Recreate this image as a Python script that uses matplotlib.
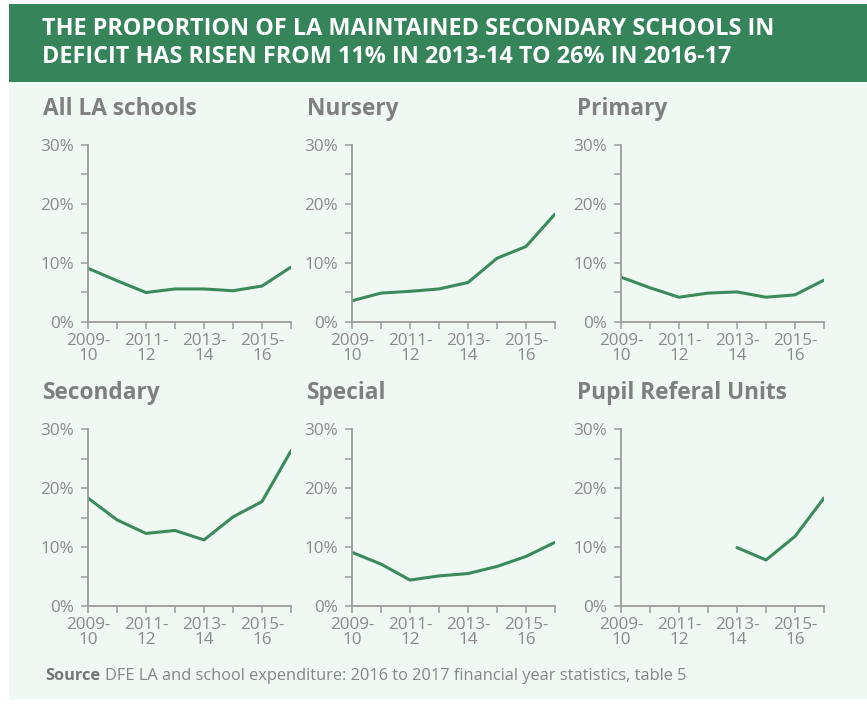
import numpy as np
import matplotlib
matplotlib.use("Agg")
import matplotlib.pyplot as plt
from matplotlib.patches import Rectangle

years = ["2009-\n10", "2010-\n11", "2011-\n12", "2012-\n13", "2013-\n14", "2014-\n15", "2015-\n16", "2016-\n17"]

all_la = [9.1, 7.0, 5.0, 5.6, 5.6, 5.3, 6.1, 9.3]
nursery = [3.6, 4.9, 5.2, 5.6, 6.7, 10.8, 12.8, 18.3]
primary = [7.6, 5.8, 4.2, 4.9, 5.1, 4.2, 4.6, 7.1]
secondary = [18.3, 14.6, 12.3, 12.8, 11.2, 15.1, 17.7, 26.3]
special = [9.1, 7.1, 4.4, 5.1, 5.5, 6.7, 8.4, 10.8]
pru = [np.nan, np.nan, np.nan, np.nan, 9.9, 7.8, 11.8, 18.3]

panels = [("All LA schools", all_la), ("Nursery", nursery), ("Primary", primary),
          ("Secondary", secondary), ("Special", special), ("Pupil Referal Units", pru)]

title = "THE PROPORTION OF LA MAINTAINED SECONDARY SCHOOLS IN\nDEFICIT HAS RISEN FROM 11% IN 2013-14 TO 26% IN 2016-17"
source = "DFE LA and school expenditure: 2016 to 2017 financial year statistics, table 5"

green = "#368459"
line_green = "#3a8a5c"
bg = "#f0f8f4"
grey = "#8a8a8a"
axis_grey = "#9a9a9a"

plt.rcParams['font.family'] = ['Open Sans', 'DejaVu Sans']

W, H = 867, 706
fig = plt.figure(figsize=(W / 100, H / 100), dpi=100)
fig.patch.set_facecolor("white")

# backgrounds (pixel coordinates converted to figure fraction)
fig.patches.append(Rectangle((9 / W, 1 - 699 / H), 1 - 9 / W, (699 - 82) / H,
                             transform=fig.transFigure, facecolor=bg, edgecolor="none", zorder=-2))
fig.patches.append(Rectangle((9 / W, 1 - 82 / H), 1 - 9 / W, 78 / H,
                             transform=fig.transFigure, facecolor=green, edgecolor="none", zorder=-1))

fig.text(42 / W, 1 - 43 / H, title, color="white", fontsize=16.8, fontweight="bold",
         va="center", ha="left", linespacing=1.22)

lefts = [88, 352, 621]
tops = [145, 429]
aw, ah = 203, 177
title_x = [43, 307, 577]
title_y = [109, 393]

x = np.arange(len(years))
for i, (name, vals) in enumerate(panels):
    r, c = divmod(i, 3)
    ax = fig.add_axes([lefts[c] / W, 1 - (tops[r] + ah) / H, aw / W, ah / H])
    ax.set_facecolor("none")
    ax.plot(x, vals, color=line_green, lw=2.2, solid_capstyle="round")
    ax.set_xlim(0, len(years) - 1)
    ax.set_ylim(0, 30)
    ax.set_yticks(np.arange(0, 31, 5))
    ax.set_yticklabels([f"{v}%" if v % 10 == 0 else "" for v in range(0, 31, 5)])
    ax.set_xticks(x)
    ax.set_xticklabels([y if k % 2 == 0 else "" for k, y in enumerate(years)])
    for s in ["top", "right"]:
        ax.spines[s].set_visible(False)
    for s in ["left", "bottom"]:
        ax.spines[s].set_color(axis_grey)
        ax.spines[s].set_linewidth(1.3)
    ax.tick_params(colors=axis_grey, labelcolor=grey, labelsize=12.3, length=5, width=1.1, pad=5)
    ax.tick_params(axis="x", pad=3)
    for lab in ax.get_xticklabels():
        lab.set_linespacing(0.9)
    fig.text(title_x[c] / W, 1 - title_y[r] / H, name, color="#7f7f7f", fontsize=16.3,
             fontweight="bold", va="center", ha="left")

t = fig.text(45 / W, 1 - 676 / H, "Source", color="#757575", fontsize=11.8, fontweight="bold",
             va="center", ha="left")
bb = t.get_window_extent(renderer=fig.canvas.get_renderer())
fig.text((bb.x1 + 5) / W, 1 - 676 / H, source, color="#858585", fontsize=11.8,
         va="center", ha="left")

fig.savefig("out.png", dpi=100)
